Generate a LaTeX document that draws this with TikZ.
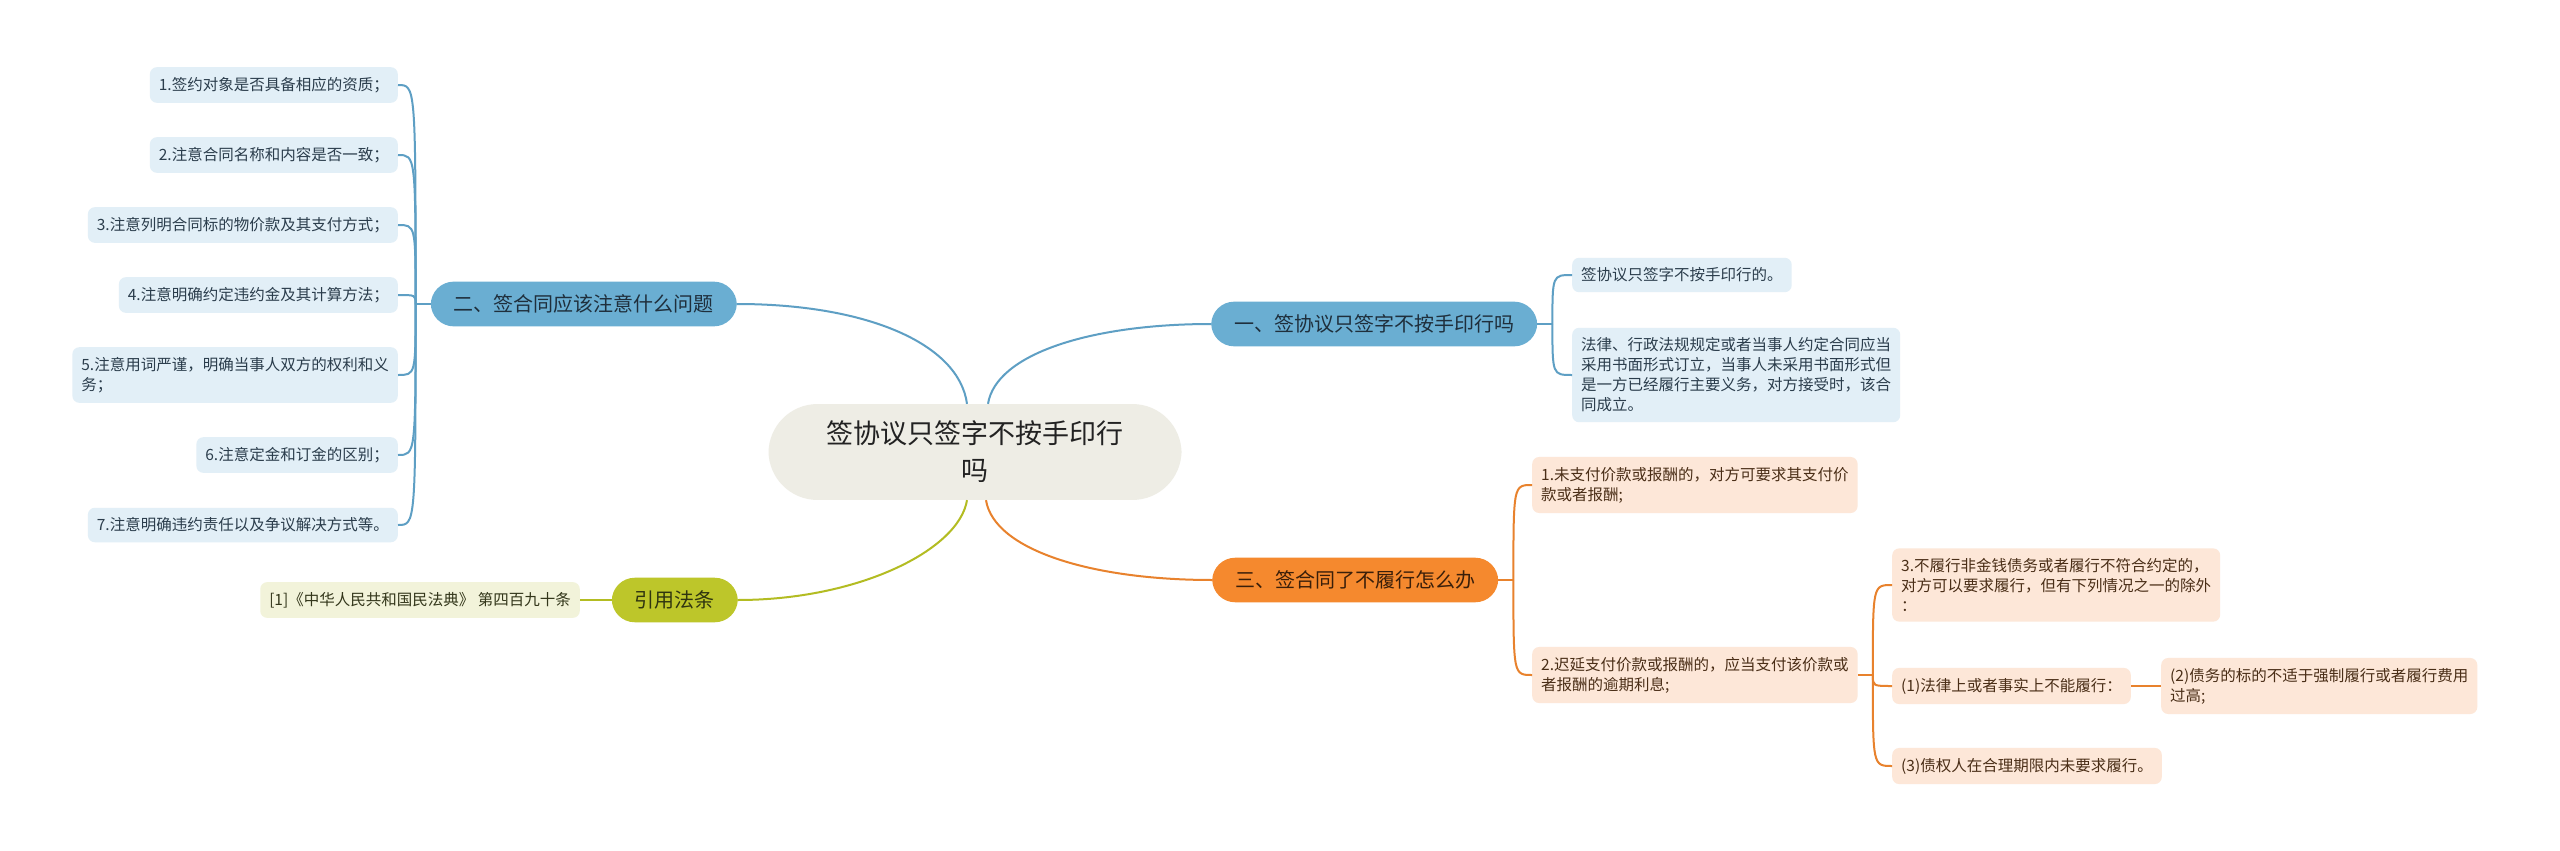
\documentclass[tikz,border=0pt]{standalone}
\usepackage{fontspec}
\setmainfont{Noto Sans CJK SC}
\usepackage{xcolor}
\usepackage{tikz}
\usetikzlibrary{calc}

\definecolor{rootfill}{HTML}{EEEDE5}
\definecolor{roottext}{HTML}{222222}
\definecolor{bluefill}{HTML}{6AAED2}
\definecolor{bluetext}{HTML}{1F2F3C}
\definecolor{blueleaf}{HTML}{E2EFF7}
\definecolor{blueleaftext}{HTML}{2B3D4C}
\definecolor{blueline}{HTML}{5E9FC4}
\definecolor{orangefill}{HTML}{F5892E}
\definecolor{orangetext}{HTML}{3A1F0A}
\definecolor{orangeleaf}{HTML}{FDE7D8}
\definecolor{orangeleaftext}{HTML}{4A2E17}
\definecolor{orangeline}{HTML}{E8822D}
\definecolor{greenfill}{HTML}{BDC62A}
\definecolor{greentext}{HTML}{2F3510}
\definecolor{greenleaf}{HTML}{F2F3DA}
\definecolor{greenleaftext}{HTML}{33361A}
\definecolor{greenline}{HTML}{B3BC22}

\begin{document}
\begin{tikzpicture}[
x=1pt,
y=-1pt,
every node/.style={font=\fontsize{15.5}{20}\selectfont},
mroot/.style={rectangle,rounded corners=49pt,fill=rootfill,text=roottext,align=center,inner xsep=58pt,inner ysep=17pt,font=\fontsize{27}{37}\selectfont},
mbranch/.style={rectangle,rounded corners=23pt,align=center,inner xsep=23pt,inner ysep=13pt,font=\fontsize{20}{24}\selectfont},
mleaf/.style={rectangle,rounded corners=7pt,align=left,inner xsep=9pt,inner ysep=10pt},
bblue/.style={mbranch,fill=bluefill,text=bluetext},
borange/.style={mbranch,fill=orangefill,text=orangetext},
bgreen/.style={mbranch,fill=greenfill,text=greentext},
fblue/.style={mleaf,fill=blueleaf,text=blueleaftext},
forange/.style={mleaf,fill=orangeleaf,text=orangeleaftext},
fgreen/.style={mleaf,fill=greenleaf,text=greenleaftext},
lblue/.style={draw=blueline,line width=2pt},
lorange/.style={draw=orangeline,line width=2pt},
lgreen/.style={draw=greenline,line width=2pt}
]
\fill[white] (0,0) rectangle (2560,851);

\node[mroot] (root) at (975,452) {签协议只签字不按手印行\\吗};

\node[bblue,anchor=east] (b2) at (737,304) {二、签合同应该注意什么问题};
\node[bblue,anchor=west] (b1) at (1211,324) {一、签协议只签字不按手印行吗};
\node[borange,anchor=west] (b3) at (1212,580) {三、签合同了不履行怎么办};
\node[bgreen,anchor=east] (b4) at (738,600) {引用法条};

\node[fblue,anchor=east] (b2a) at (398,85) {1.签约对象是否具备相应的资质；};
\node[fblue,anchor=east] (b2b) at (398,155) {2.注意合同名称和内容是否一致；};
\node[fblue,anchor=east] (b2c) at (398,225) {3.注意列明合同标的物价款及其支付方式；};
\node[fblue,anchor=east] (b2d) at (398,295) {4.注意明确约定违约金及其计算方法；};
\node[fblue,anchor=east] (b2e) at (398,375) {5.注意用词严谨，明确当事人双方的权利和义\\务；};
\node[fblue,anchor=east] (b2f) at (398,455) {6.注意定金和订金的区别；};
\node[fblue,anchor=east] (b2g) at (398,525) {7.注意明确违约责任以及争议解决方式等。};

\node[fblue,anchor=west] (b1a) at (1572,275) {签协议只签字不按手印行的。};
\node[fblue,anchor=west] (b1b) at (1572,375) {法律、行政法规规定或者当事人约定合同应当\\采用书面形式订立，当事人未采用书面形式但\\是一方已经履行主要义务，对方接受时，该合\\同成立。};

\node[forange,anchor=west] (b3a) at (1532,485) {1.未支付价款或报酬的，对方可要求其支付价\\款或者报酬;};
\node[forange,anchor=west] (b3b) at (1532,675) {2.迟延支付价款或报酬的，应当支付该价款或\\者报酬的逾期利息;};
\node[forange,anchor=west] (b3c) at (1892,585) {3.不履行非金钱债务或者履行不符合约定的，\\对方可以要求履行，但有下列情况之一的除外\\：};
\node[forange,anchor=west] (b3d) at (1892,686) {(1)法律上或者事实上不能履行：};
\node[forange,anchor=west] (b3e) at (2161,686) {(2)债务的标的不适于强制履行或者履行费用\\过高;};
\node[forange,anchor=west] (b3f) at (1892,766) {(3)债权人在合理期限内未要求履行。};

\node[fgreen,anchor=east] (b4a) at (580,600) {[1]《中华人民共和国民法典》 第四百九十条};

\coordinate (j2) at ($(b2.west)+(-15,0)$);
\coordinate (j1) at ($(b1.east)+(15,0)$);
\coordinate (j3) at ($(b3.east)+(15,0)$);
\coordinate (j3b) at ($(b3b.east)+(15,0)$);

\draw[lblue] ([xshift=-8pt]root.north) .. controls +(-8,-60) and +(130,0) .. (b2.east);
\draw[lblue] ([xshift=13pt]root.north) .. controls +(8,-50) and +(-120,0) .. (b1.west);
\draw[lgreen] ([xshift=-8pt]root.south) .. controls +(-8,50) and +(120,0) .. (b4.east);
\draw[lorange] ([xshift=11pt]root.south) .. controls +(8,50) and +(-120,0) .. (b3.west);

\draw[lblue] (b2.west) -- (j2);
\draw[lblue] (j2) .. controls (j2 |- b2a.east) .. (b2a.east);
\draw[lblue] (j2) .. controls (j2 |- b2b.east) .. (b2b.east);
\draw[lblue] (j2) .. controls (j2 |- b2c.east) .. (b2c.east);
\draw[lblue] (j2) .. controls (j2 |- b2d.east) .. (b2d.east);
\draw[lblue] (j2) .. controls (j2 |- b2e.east) .. (b2e.east);
\draw[lblue] (j2) .. controls (j2 |- b2f.east) .. (b2f.east);
\draw[lblue] (j2) .. controls (j2 |- b2g.east) .. (b2g.east);

\draw[lblue] (b1.east) -- (j1);
\draw[lblue] (j1) .. controls (j1 |- b1a.west) .. (b1a.west);
\draw[lblue] (j1) .. controls (j1 |- b1b.west) .. (b1b.west);

\draw[lorange] (b3.east) -- (j3);
\draw[lorange] (j3) .. controls (j3 |- b3a.west) .. (b3a.west);
\draw[lorange] (j3) .. controls (j3 |- b3b.west) .. (b3b.west);
\draw[lorange] (b3b.east) -- (j3b);
\draw[lorange] (j3b) .. controls (j3b |- b3c.west) .. (b3c.west);
\draw[lorange] (j3b) .. controls (j3b |- b3d.west) .. (b3d.west);
\draw[lorange] (j3b) .. controls (j3b |- b3f.west) .. (b3f.west);
\draw[lorange] (b3d.east) -- (b3e.west);

\draw[lgreen] (b4a.east) -- (b4.west);
\end{tikzpicture}
\end{document}
